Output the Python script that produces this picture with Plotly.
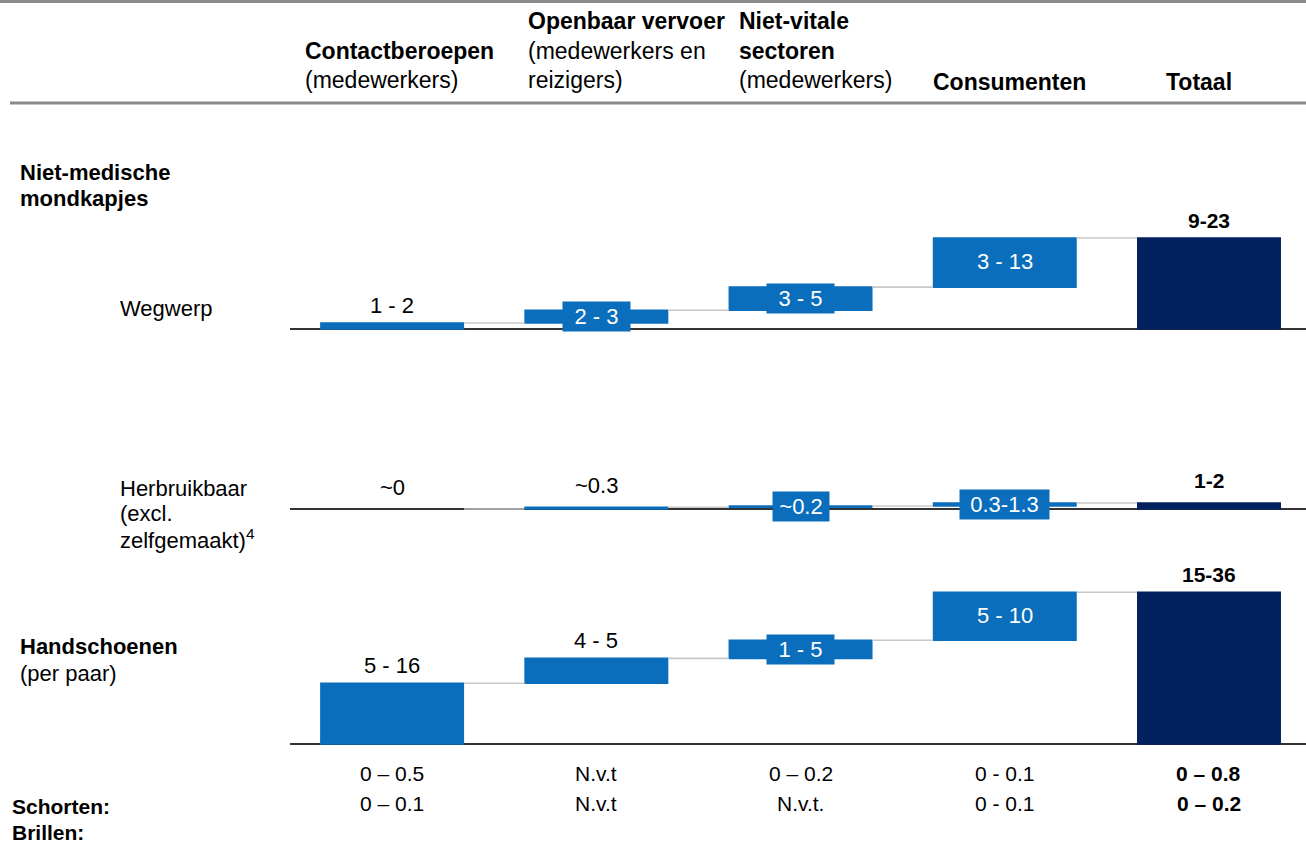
import plotly.graph_objects as go

# ---------------- data ----------------
categories = ["Contactberoepen", "Openbaar vervoer", "Niet-vitale sectoren", "Consumenten", "Totaal"]

wegwerp_values = [1.0, 2.1, 3.8, 8.1]
wegwerp_labels = ["1 - 2", "2 - 3", "3 - 5", "3 - 13", "9-23"]
wegwerp_styles = ["above", "box", "box", "inside", "total"]

herbruik_values = [0.0, 0.3, 0.2, 0.5]
herbruik_labels = ["~0", "~0.3", "~0.2", "0.3-1.3", "1-2"]
herbruik_styles = ["above", "above", "box", "box", "total"]

handschoen_values = [10.0, 4.1, 3.0, 7.9]
handschoen_labels = ["5 - 16", "4 - 5", "1 - 5", "5 - 10", "15-36"]
handschoen_styles = ["above", "above", "box", "inside", "total"]

schorten_row = ["0 – 0.5", "N.v.t", "0 – 0.2", "0 - 0.1", "0 – 0.8"]
brillen_row = ["0 – 0.1", "N.v.t", "N.v.t.", "0 - 0.1", "0 – 0.2"]

# ---------------- style ----------------
W, H = 1306, 844
FONT = "Liberation Sans, Arial, sans-serif"
FS = 23      # header / row label font
VFS = 22     # value label font
BLUE = "#0A6EBD"
NAVY = "#04215F"
CONN = "#C8C8C8"
K = 6.07  # pixels per unit

def py(y):
    return 1 - y / H

def px(x):
    return x / W

panels = [
    # values, labels, styles, baseline px, bottom px, top px
    (wegwerp_values, wegwerp_labels, wegwerp_styles, 329, 340, 225),
    (herbruik_values, herbruik_labels, herbruik_styles, 509, 525, 490),
    (handschoen_values, handschoen_labels, handschoen_styles, 744, 752, 580),
]

x_pos = list(range(len(categories)))
fig = go.Figure()
annotations = []
layout_axes = {}

for i, (vals, labels, styles, base_px, bot_px, top_px) in enumerate(panels):
    yname = "y" if i == 0 else f"y{i+1}"
    lname = "yaxis" if i == 0 else f"yaxis{i+1}"
    total = sum(vals)
    fig.add_trace(go.Waterfall(
        x=x_pos,
        y=vals + [total],
        measure=["relative"] * len(vals) + ["total"],
        width=0.705,
        increasing=dict(marker=dict(color=BLUE)),
        totals=dict(marker=dict(color=NAVY)),
        connector=dict(line=dict(color=CONN, width=1.6), mode="between"),
        textinfo="none",
        hoverinfo="skip",
        cliponaxis=False,
        xaxis="x",
        yaxis=yname,
        showlegend=False,
    ))
    ymin = -(bot_px - base_px) / K
    ymax = (base_px - top_px) / K
    layout_axes[lname] = dict(
        domain=[py(bot_px), py(top_px)], range=[ymin, ymax], anchor="x",
        showgrid=False, showticklabels=False, ticks="",
        zeroline=True, zerolinecolor="#333333", zerolinewidth=1.5,
        fixedrange=True,
    )
    cum = 0.0
    for j, (lab, st) in enumerate(zip(labels, styles)):
        if j < len(vals):
            lo, hi = cum, cum + vals[j]
            cum = hi
        else:
            lo, hi = 0.0, total
        mid = (lo + hi) / 2
        if st == "above":
            annotations.append(dict(x=j, y=hi, xref="x", yref=yname, text=lab,
                                    showarrow=False, yanchor="bottom",
                                    yshift=(7 if i == 1 else 3),
                                    font=dict(family=FONT, size=VFS, color="black")))
        elif st == "total":
            annotations.append(dict(x=j, y=hi, xref="x", yref=yname, text=f"<b>{lab}</b>",
                                    showarrow=False, yanchor="bottom",
                                    yshift=(9 if i == 1 else 4),
                                    font=dict(family=FONT, size=VFS - 1, color="black")))
        elif st == "inside":
            annotations.append(dict(x=j, y=hi, xref="x", yref=yname, text=lab,
                                    showarrow=False, yanchor="top", yshift=-9,
                                    font=dict(family=FONT, size=VFS, color="white")))
        elif st == "box":
            annotations.append(dict(x=j, y=mid, xref="x", yref=yname, text=lab,
                                    showarrow=False, yanchor="middle",
                                    bgcolor=BLUE, borderpad=2,
                                    width=11 * len(lab) + 8, height=25,
                                    font=dict(family=FONT, size=VFS, color="white")))

# ---------- header ----------
def txt(x, y, s, bold=False, size=FS, anchor="left"):
    annotations.append(dict(x=px(x), y=py(y), xref="paper", yref="paper",
                            text=(f"<b>{s}</b>" if bold else s), showarrow=False,
                            xanchor=anchor, yanchor="middle",
                            font=dict(family=FONT, size=size, color="black")))

txt(303, 51, "Contactberoepen", True)
txt(303, 80, "(medewerkers)")
txt(526, 21, "Openbaar vervoer", True)
txt(526, 51, "(medewerkers en")
txt(526, 80, "reizigers)")
txt(737, 21, "Niet-vitale", True)
txt(737, 51, "sectoren", True)
txt(737, 80, "(medewerkers)")
txt(931, 82, "Consumenten", True)
txt(1164, 82, "Totaal", True)

# ---------- row labels ----------
txt(18, 172, "Niet-medische", True, FS - 1)
txt(18, 198, "mondkapjes", True, FS - 1)
txt(118, 309, "Wegwerp", False, FS - 1)
txt(118, 488, "Herbruikbaar", False, FS - 1)
txt(118, 513, "(excl.", False, FS - 1)
txt(118, 539, "zelfgemaakt)<sup>4</sup>", False, FS - 1)
txt(18, 646, "Handschoenen", True, FS - 1)
txt(18, 673, "(per paar)", False, FS - 1)
txt(10, 806, "Schorten:", True, FS - 2)
txt(10, 832, "Brillen:", True, FS - 2)

# ---------- table rows ----------
for row, ypx in ((schorten_row, 773), (brillen_row, 803)):
    for j, s in enumerate(row):
        bold = j == len(row) - 1
        annotations.append(dict(x=j, y=py(ypx), xref="x", yref="paper",
                                text=(f"<b>{s}</b>" if bold else s), showarrow=False,
                                xanchor="center", yanchor="middle",
                                font=dict(family=FONT, size=VFS - 1, color="black")))

shapes = [
    dict(type="line", xref="paper", yref="paper", x0=0, x1=1, y0=py(1.5), y1=py(1.5),
         line=dict(color="#8A8A8A", width=3)),
    dict(type="line", xref="paper", yref="paper", x0=px(10), x1=1, y0=py(103), y1=py(103),
         line=dict(color="#8A8A8A", width=3)),
]

fig.update_layout(
    width=W, height=H,
    margin=dict(l=0, r=0, t=0, b=0),
    paper_bgcolor="white", plot_bgcolor="rgba(0,0,0,0)",
    xaxis=dict(domain=[px(290), 1], range=[-0.5, 4.475], visible=False, fixedrange=True),
    annotations=annotations,
    shapes=shapes,
    showlegend=False,
    **layout_axes,
)

fig.write_html("out.html", config={"displayModeBar": False},
               post_script="document.body.style.margin='0';document.body.style.overflow='hidden';")
